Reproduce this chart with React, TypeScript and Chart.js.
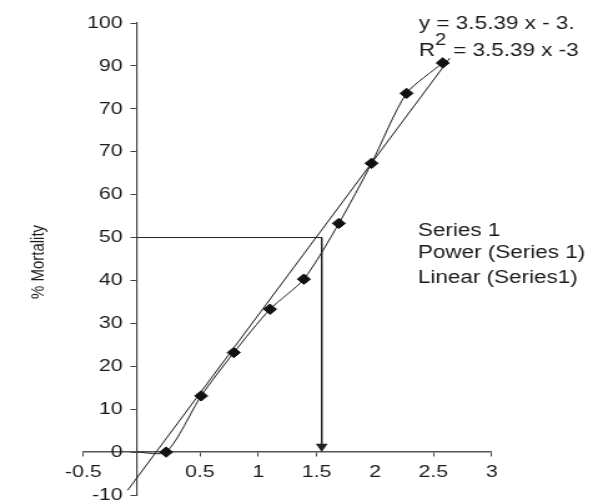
import React, { useEffect, useRef } from "react";
import { Chart, registerables } from "chart.js";

Chart.register(...registerables);

// ---- data ----
const seriesX = [0.21, 0.51, 0.79, 1.1, 1.39, 1.69, 1.97, 2.27, 2.58];
const seriesY = [0, 13.1, 23.2, 33.3, 40.3, 53.3, 67.3, 83.6, 90.7];
const powerStartX = -0.04;
const powerStartY = 0;
const linearX = [-0.12, 2.64];
const linearY = [-8.9, 91.8];
const refX = [-0.04, 1.543, 1.543];
const refY = [50, 50, 1.3];
const xTickValues = [-0.5, 0, 0.5, 1, 1.5, 2, 2.5, 3];
const xTickLabels = ["-0.5", "", "0.5", "1", "1.5", "2", "2.5", "3"];
const yTickValues = [-10, 0, 10, 20, 30, 40, 50, 60, 70, 80, 90, 100];
const yTickLabels = ["-10", "0", "10", "20", "30", "40", "50", "60", "70", "70", "90", "100"];
const equationLine1 = "y = 3.5.39 x - 3.";
const equationR = "R";
const equationSup = "2";
const equationLine2 = "= 3.5.39 x -3";
const legendLabels = ["Series 1", "Power (Series 1)", "Linear (Series1)"];
const yTitle = "% Mortality";

const FONT = '"Liberation Sans", Arial, Helvetica, sans-serif';
const CANVAS_W = 475;
const CANVAS_H = 502;
const STRETCH = 593 / CANVAS_W;
const Y_TICK_LEN = 4.5;
const Y_TICK_PAD = 7;

const textPlugin = {
  id: "annotTexts",
  afterDraw(chart: any) {
    const ctx = chart.ctx as CanvasRenderingContext2D;
    ctx.save();
    ctx.fillStyle = "#1a1a1a";
    ctx.textAlign = "left";
    ctx.textBaseline = "alphabetic";
    ctx.font = `18px ${FONT}`;
    ctx.fillText(equationLine1, 335.6, 29);
    ctx.fillText(equationR, 335.6, 56);
    ctx.fillText(equationLine2, 362.9, 56);
    ctx.font = `16px ${FONT}`;
    ctx.fillText(equationSup, 348.4, 44.7);
    ctx.font = `18px ${FONT}`;
    const legendBaselines = [235.7, 258.4, 283.1];
    legendLabels.forEach((t, i) => ctx.fillText(t, 334.8, legendBaselines[i]));
    ctx.translate(31.2, 262);
    ctx.rotate(-Math.PI / 2);
    ctx.textAlign = "center";
    ctx.textBaseline = "middle";
    ctx.font = `15px ${FONT}`;
    ctx.fillText(yTitle, 0, 0);
    ctx.restore();
  },
};

// move the y tick labels of the value-positioned axis off the axis line
const yLabelOffsetPlugin = {
  id: "yLabelOffset",
  beforeDraw(chart: any) {
    const scale = chart.scales.y;
    if (!scale) return;
    const items = scale.getLabelItems(chart.chartArea);
    if (items && !items.__shifted) {
      items.forEach((it: any) => {
        it.options.translation[0] -= Y_TICK_LEN + Y_TICK_PAD;
      });
      items.__shifted = true;
    }
  },
};

function labelFor(values: number[], labels: string[], v: number) {
  const i = values.findIndex((t) => Math.abs(t - v) < 1e-6);
  return i >= 0 ? labels[i] : "";
}

export default function App() {
  const ref = useRef<HTMLCanvasElement | null>(null);

  useEffect(() => {
    if (!ref.current) return;
    const seriesPts = seriesX.map((x, i) => ({ x, y: seriesY[i] }));
    const powerPts = [{ x: powerStartX, y: powerStartY }, ...seriesPts];
    const linearPts = linearX.map((x, i) => ({ x, y: linearY[i] }));
    const refPts = refX.map((x, i) => ({ x, y: refY[i] }));

    const chart = new Chart(ref.current, {
      type: "line",
      data: {
        datasets: [
          {
            label: legendLabels[0],
            data: seriesPts,
            showLine: false,
            pointStyle: "rectRot",
            pointRadius: 5.2,
            pointBackgroundColor: "#111",
            pointBorderColor: "#111",
            pointBorderWidth: 1,
          },
          {
            label: legendLabels[1],
            data: powerPts,
            borderColor: "#1a1a1a",
            borderWidth: 1,
            tension: 0.25,
            pointRadius: 0,
            fill: false,
          },
          {
            label: legendLabels[2],
            data: linearPts,
            borderColor: "#1a1a1a",
            borderWidth: 1,
            tension: 0,
            pointRadius: 0,
            fill: false,
          },
          {
            label: "ref",
            data: refPts,
            borderColor: "#222",
            borderWidth: 1,
            tension: 0,
            pointRadius: [0, 0, 5.5],
            pointStyle: "triangle",
            rotation: 180,
            pointBackgroundColor: "#222",
            pointBorderColor: "#222",
            pointBorderWidth: 0,
            fill: false,
          },
        ] as any,
      },
      options: {
        responsive: false,
        animation: false,
        devicePixelRatio: 1,
        events: [],
        layout: {
          autoPadding: false,
          padding: { left: 66.7, right: 81.1, top: 23, bottom: 7 },
        },
        plugins: {
          legend: { display: false },
          tooltip: { enabled: false },
        },
        scales: {
          x: {
            type: "linear",
            min: -0.5,
            max: 3,
            position: { y: 0 } as any,
            afterBuildTicks: (s: any) => {
              s.ticks = xTickValues.map((v) => ({ value: v }));
            },
            afterFit: (s: any) => {
              s.paddingLeft = 0;
              s.paddingRight = 0;
              s.paddingTop = 0;
              s.paddingBottom = 0;
            },
            ticks: {
              autoSkip: false,
              maxRotation: 0,
              padding: 6,
              color: "#1a1a1a",
              font: { family: FONT, size: 17 },
              callback: (v: any) => labelFor(xTickValues, xTickLabels, Number(v)),
            },
            grid: {
              drawOnChartArea: false,
              drawTicks: true,
              tickLength: 4,
              tickColor: (c: any) =>
                c.tick && (c.tick.value === 0 || c.tick.value === 2) ? "rgba(0,0,0,0)" : "#444",
            },
            border: { display: true, color: "#555", width: 1.5 },
          },
          y: {
            type: "linear",
            min: -10,
            max: 100,
            position: { x: -0.04 } as any,
            afterBuildTicks: (s: any) => {
              s.ticks = yTickValues.map((v) => ({ value: v }));
            },
            afterFit: (s: any) => {
              s.paddingLeft = 0;
              s.paddingRight = 0;
              s.paddingTop = 0;
              s.paddingBottom = 0;
            },
            ticks: {
              autoSkip: false,
              padding: Y_TICK_PAD,
              color: "#1a1a1a",
              font: { family: FONT, size: 17 },
              callback: (v: any) => labelFor(yTickValues, yTickLabels, Number(v)),
            },
            grid: {
              drawOnChartArea: false,
              drawTicks: true,
              tickLength: Y_TICK_LEN,
              tickColor: "#444",
            },
            border: { display: true, color: "#444", width: 1.2 },
          },
        },
      } as any,
      plugins: [yLabelOffsetPlugin, textPlugin],
    });
    return () => chart.destroy();
  }, []);

  return (
    <div
      style={{
        position: "fixed",
        left: 0,
        top: 0,
        width: 593,
        height: 502,
        overflow: "hidden",
        background: "#fff",
      }}
    >
      <canvas
        ref={ref}
        width={CANVAS_W}
        height={CANVAS_H}
        style={{ display: "block", transform: `scaleX(${STRETCH})`, transformOrigin: "0 0" }}
      />
    </div>
  );
}
